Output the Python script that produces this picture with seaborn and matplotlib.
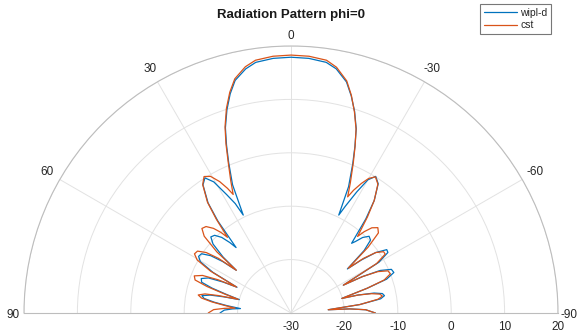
import numpy as np
import matplotlib
matplotlib.use("Agg")
import matplotlib.pyplot as plt
import seaborn as sns
import pandas as pd

theta_deg = [
    -90, -87.5, -86, -85, -83, -81, -79.5, -78, -76.5, -75, -74, -72, -70.5, -68.5,
    -66.5, -64.5, -63, -62, -60, -58, -56.5, -54.5, -53, -52, -49.5, -47.5, -45.5,
    -43.5, -42, -41, -38.5, -36.5, -34, -31.8, -30, -28.5, -27, -26, -24.5, -22.5,
    -21, -19.5, -17.5, -15.5, -13.5, -10.5, -8, -4,
    0,
    4, 8, 10.5, 13.5, 15.5, 17.5, 19.5, 21, 22.5, 24.5, 26, 27, 28.5, 30.5, 32.5,
    34.5, 37, 38.5, 40, 41, 42.5, 44.5, 46.5, 48.5, 50.5, 52, 53, 54.5, 56.5, 58.5,
    60.5, 62.5, 64.5, 65.5, 67, 69, 71, 72.5, 74, 75.5, 76.5, 77.5, 79, 80.5, 82,
    83.5, 85, 86, 87.5, 90,
]

# gain in dB
wipl_db = [
    -14.2, -16, -19, -23, -17, -13, -12.2, -12.5, -14, -17, -20.1, -15, -11, -9.3,
    -9.5, -11.5, -15, -18.9, -11, -8.6, -8.5, -10.5, -13.5, -16.6, -12, -9.8, -9.5,
    -10.5, -12.0, -12.7, -7.5, -3.8, -0.8, 0.1, -1.2, -4.2, -7.5, -9.6, -4.0, 0.2,
    3.4, 6.6, 9.6, 12.2, 14.5, 16.5, 17.4, 17.8,
    17.9,
    17.8, 17.4, 16.5, 14.8, 12.6, 9.9, 6.8, 3.7, 0.5, -3.6, -9.6, -7.0, -4.8, -1.5, 0.0,
    -0.9, -4.2, -8.0, -14.0, -12.5, -10.8, -9.6, -9.3, -10.5, -13.5, -17.0, -14, -11.5, -9.9, -9.7,
    -10.5, -13.5, -18.8, -16, -13.2, -12.0, -12.3, -14.5, -17.5, -20.0, -17, -14.5, -13.0, -13.5, -15.5,
    -18, -20.5, -19, -17.5, -16.7,
]

cst_db = [
    -14.2, -16, -19, -23, -17, -13.5, -12.6, -13, -14.5, -17, -20.1, -15, -11.5, -10.0,
    -10.2, -12, -15, -18.9, -11.5, -9.2, -9.2, -10.5, -13, -16.4, -11, -7.8, -7.2,
    -8.0, -9.5, -11.0, -7.0, -3.8, -0.9, 0.0, -0.9, -2.4, -4.2, -5.8, -3.2, 0.5,
    3.5, 6.5, 9.5, 12.3, 14.7, 16.8, 17.8, 18.2,
    18.3,
    18.2, 17.8, 16.9, 15.1, 12.9, 10.2, 7.0, 4.0, 0.8, -2.8, -5.3, -3.8, -2.0, -0.3, 0.3,
    -0.8, -4.0, -7.5, -11.5, -10, -8.5, -7.3, -7.0, -8.3, -12.0, -17.0, -13, -10.5, -9.0, -8.8,
    -9.8, -13, -18.7, -15, -12, -10.6, -11.0, -13.5, -17, -19.8, -16, -13.5, -12.3, -13, -15,
    -17.5, -19.5, -17.5, -15.5, -14.5,
]

series_names = ["wipl-d", "cst"]
series_colors = ["#0072BD", "#D95319"]
r_ticks = [-30, -20, -10, 0, 10, 20]
theta_ticks = [-90, -60, -30, 0, 30, 60, 90]

sns.set_style("white")
plt.rcParams["font.family"] = ["Liberation Sans", "DejaVu Sans"]

df = pd.DataFrame({"theta": np.deg2rad(theta_deg), "wipl-d": wipl_db, "cst": cst_db})
df = df.melt(id_vars="theta", var_name="source", value_name="gain")

fig = plt.figure(figsize=(5.79, 3.36), dpi=100)
# half disk: centre (291, 313) px, radius 267 px; the wedge is centred in a square box
ax = fig.add_axes([24 / 579, (336 - 446.5) / 336, 534 / 579, 534 / 336], projection="polar")
ax.set_theta_zero_location("N")
ax.set_theta_direction(1)
ax.set_thetamin(-90)
ax.set_thetamax(90)

sns.lineplot(data=df, x="theta", y="gain", hue="source", hue_order=series_names,
             palette=dict(zip(series_names, series_colors)), sort=False,
             estimator=None, lw=0.9, ax=ax)

ax.set_rlim(-30, 20)
ax.set_yticks(r_ticks)
ax.set_yticklabels([])
ax.set_xticks(np.deg2rad(theta_ticks))
ax.set_xticklabels([])
ax.set_xlabel("")
ax.set_ylabel("")
ax.grid(True, color="#e2e2e2", lw=0.7)
for s in ax.spines.values():
    s.set_color("#bdbdbd")
    s.set_linewidth(0.8)

# radial labels under the baseline on the right
for r in r_ticks:
    ax.annotate(str(r), xy=(np.deg2rad(-90), r), xytext=(0, -9.8),
                textcoords="offset points", ha="center", va="center",
                fontsize=8.5, color="#262626", annotation_clip=False)

# angle labels outside the arc
for t in theta_ticks:
    a = np.deg2rad(t)
    if t == 0:
        d = 7.0
    elif abs(t) == 90:
        d = 7.8
    else:
        d = 10.5
    dy = -1.5 if abs(t) == 90 else 0
    ax.annotate(str(t), xy=(a, 20), xytext=(-np.sin(a) * d, np.cos(a) * d + dy),
                textcoords="offset points", ha="center", va="center",
                fontsize=8.5, color="#262626", annotation_clip=False)

fig.text(291 / 579, 1 - 15 / 336, "Radiation Pattern phi=0", ha="center", va="center",
         fontsize=9.5, fontweight="bold", color="#1a1a1a")

ax.legend(loc="upper right", bbox_to_anchor=(551 / 579, 1 - 4 / 336),
          bbox_transform=fig.transFigure, frameon=True, fancybox=False,
          edgecolor="#555555", fontsize=7.5, handlelength=3.2, borderpad=0.35,
          labelspacing=0.25, handletextpad=0.3, borderaxespad=0)
ax.get_legend().get_frame().set_linewidth(0.8)

fig.savefig("out.png", dpi=100)
